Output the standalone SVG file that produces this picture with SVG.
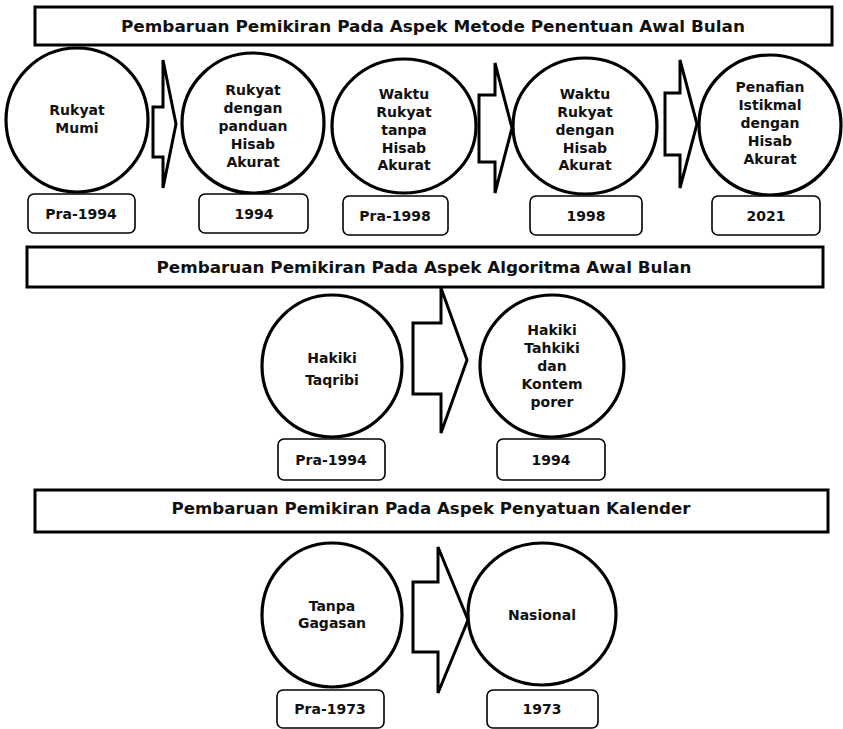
<svg xmlns="http://www.w3.org/2000/svg" width="843" height="729" viewBox="0 0 843 729">
<style>
.bg{fill:#fff}
.hdr{fill:#fff;stroke:#000;stroke-width:3}
.cir{fill:#fff;stroke:#000;stroke-width:3.2}
.box{fill:#fff;stroke:#000;stroke-width:1.6}
.arr{fill:#fff;stroke:#000;stroke-width:3;stroke-linejoin:miter}
text{font-family:"DejaVu Sans","Liberation Sans",sans-serif;font-weight:bold;fill:#111;text-anchor:middle}
.ht{font-size:15px}
.nt{font-size:14px}
</style>
<rect class="bg" x="0" y="0" width="843" height="729"/>

<!-- Section 1 -->
<g id="title1">
<rect class="hdr" x="35" y="7" width="797" height="38"/>
<text class="ht" x="433" y="32" textLength="624" lengthAdjust="spacingAndGlyphs">Pembaruan Pemikiran Pada Aspek Metode Penentuan Awal Bulan</text>
</g>

<g id="connectors">
<polygon class="arr" points="153,107 163,107 163,60 176,124 163,188 163,157 153,157"/>
<polygon class="arr" points="479,95 495,95 495,63 512,128 495,193 495,162 479,162"/>
<polygon class="arr" points="665,93 680,93 680,60 697,124 680,188 680,155 665,155"/>
<polygon class="arr" points="413,323 441,323 441,288 467,360 441,433 441,394 413,394"/>
<polygon class="arr" points="413,582 438,582 438,547 468,620 438,693 438,652 413,652"/>
</g>

<g id="n1">
<ellipse class="cir" cx="77" cy="120" rx="71" ry="72"/>
<text class="nt" x="77" y="115">Rukyat</text>
<text class="nt" x="77" y="133">Mumi</text>
</g>
<g id="n2">
<ellipse class="cir" cx="253" cy="123" rx="71" ry="70"/>
<text class="nt" x="253" y="95">Rukyat</text>
<text class="nt" x="253" y="113">dengan</text>
<text class="nt" x="253" y="131">panduan</text>
<text class="nt" x="253" y="149">Hisab</text>
<text class="nt" x="253" y="167">Akurat</text>
</g>
<g id="n3">
<ellipse class="cir" cx="404" cy="126" rx="72" ry="67"/>
<text class="nt" x="404" y="99">Waktu</text>
<text class="nt" x="404" y="117">Rukyat</text>
<text class="nt" x="404" y="135">tanpa</text>
<text class="nt" x="404" y="153">Hisab</text>
<text class="nt" x="404" y="170">Akurat</text>
</g>
<g id="n4">
<ellipse class="cir" cx="585" cy="126" rx="72" ry="68"/>
<text class="nt" x="585" y="99">Waktu</text>
<text class="nt" x="585" y="117">Rukyat</text>
<text class="nt" x="585" y="135">dengan</text>
<text class="nt" x="585" y="153">Hisab</text>
<text class="nt" x="585" y="170">Akurat</text>
</g>
<g id="n5">
<ellipse class="cir" cx="770" cy="125" rx="71" ry="70"/>
<text class="nt" x="770" y="92">Penafian</text>
<text class="nt" x="770" y="110">Istikmal</text>
<text class="nt" x="770" y="128">dengan</text>
<text class="nt" x="770" y="146">Hisab</text>
<text class="nt" x="770" y="164">Akurat</text>
</g>

<g id="d1"><rect class="box" x="28" y="194" width="107" height="39" rx="6"/><text class="nt" x="81" y="219">Pra-1994</text></g>
<g id="d2"><rect class="box" x="199" y="194" width="109" height="39" rx="6"/><text class="nt" x="254" y="219">1994</text></g>
<g id="d3"><rect class="box" x="343" y="196" width="105" height="39" rx="6"/><text class="nt" x="395" y="221">Pra-1998</text></g>
<g id="d4"><rect class="box" x="530" y="196" width="112" height="39" rx="6"/><text class="nt" x="586" y="221">1998</text></g>
<g id="d5"><rect class="box" x="712" y="196" width="108" height="39" rx="6"/><text class="nt" x="766" y="221">2021</text></g>

<!-- Section 2 -->
<g id="title2">
<rect class="hdr" x="27" y="247" width="796" height="40"/>
<text class="ht" x="424" y="273" textLength="535" lengthAdjust="spacingAndGlyphs">Pembaruan Pemikiran Pada Aspek Algoritma Awal Bulan</text>
</g>
<g id="n6">
<ellipse class="cir" cx="332" cy="366" rx="70" ry="71"/>
<text class="nt" x="332" y="363">Hakiki</text>
<text class="nt" x="332" y="385">Taqribi</text>
</g>
<g id="n7">
<ellipse class="cir" cx="552" cy="366" rx="72" ry="71"/>
<text class="nt" x="552" y="335">Hakiki</text>
<text class="nt" x="552" y="353">Tahkiki</text>
<text class="nt" x="552" y="371">dan</text>
<text class="nt" x="552" y="389">Kontem</text>
<text class="nt" x="552" y="407">porer</text>
</g>
<g id="d6"><rect class="box" x="278" y="439" width="107" height="41" rx="6"/><text class="nt" x="331" y="465">Pra-1994</text></g>
<g id="d7"><rect class="box" x="497" y="439" width="108" height="41" rx="6"/><text class="nt" x="551" y="465">1994</text></g>

<!-- Section 3 -->
<g id="title3">
<rect class="hdr" x="35" y="490" width="793" height="42"/>
<text class="ht" x="431" y="514" textLength="519" lengthAdjust="spacingAndGlyphs">Pembaruan Pemikiran Pada Aspek Penyatuan Kalender</text>
</g>
<g id="n8">
<ellipse class="cir" cx="332" cy="615" rx="70" ry="72"/>
<text class="nt" x="332" y="611">Tanpa</text>
<text class="nt" x="332" y="628">Gagasan</text>
</g>
<g id="n9">
<ellipse class="cir" cx="542" cy="614" rx="74" ry="71"/>
<text class="nt" x="542" y="620">Nasional</text>
</g>
<g id="d8"><rect class="box" x="277" y="690" width="107" height="38" rx="6"/><text class="nt" x="330" y="714">Pra-1973</text></g>
<g id="d9"><rect class="box" x="487" y="690" width="111" height="38" rx="6"/><text class="nt" x="542" y="714">1973</text></g>
</svg>
